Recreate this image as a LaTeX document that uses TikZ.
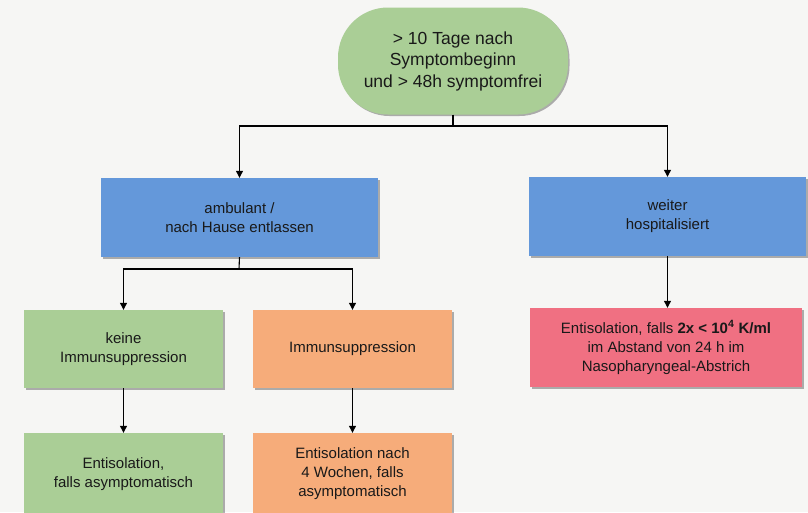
\documentclass[tikz,border=0pt]{standalone}
\usepackage{fontspec}
\setmainfont{Liberation Sans}
\usetikzlibrary{shadows,arrows.meta}
\definecolor{bgc}{RGB}{246,246,244}
\definecolor{greenc}{RGB}{170,206,150}
\definecolor{bluec}{RGB}{100,152,218}
\definecolor{orangec}{RGB}{246,172,122}
\definecolor{redc}{RGB}{240,112,130}
\definecolor{txt}{RGB}{25,25,25}
\tikzset{
  boxbase/.style={draw=none, align=center, text=txt, inner sep=0pt,
    font=\fontsize{15}{19}\selectfont,
    drop shadow={shadow xshift=1.5pt, shadow yshift=-1.5pt, fill=black, opacity=0.3}},
  bigbox/.style={boxbase, minimum width=277pt, minimum height=79pt},
  smallbox/.style={boxbase, minimum width=199pt, minimum height=78pt},
  pill/.style={boxbase, fill=greenc, rounded corners=50pt, minimum width=230pt, minimum height=107pt,
    font=\fontsize{17.5}{21.5}\selectfont},
  arr/.style={draw=black, line width=1.1pt, -{Triangle[length=7pt,width=7pt]}},
  ln/.style={draw=black, line width=1.1pt}
}
\begin{document}
\begin{tikzpicture}[x=1pt,y=-1pt]
\fill[bgc] (0,0) rectangle (808,512);
\useasboundingbox (0,0) rectangle (808,512);
\node[pill] (top) at (453,61) {> 10 Tage nach\\Symptombeginn\\und > 48h symptomfrei};
\node[bigbox, fill=bluec] (b1) at (239.5,217.5) {ambulant /\\nach Hause entlassen};
\node[bigbox, fill=bluec] (b2) at (667.5,216.5) {weiter\\hospitalisiert};
\node[smallbox, fill=greenc] (g1) at (123.5,349) {keine\\Immunsuppression};
\node[smallbox, fill=orangec] (o1) at (352.5,349) {Immunsuppression};
\node[boxbase, fill=redc, minimum width=272pt, minimum height=79pt] (r) at (666,347.5)
  {Entisolation, falls \textbf{2x < 10\textsuperscript{4} K/ml}\\im Abstand von 24 h im\\Nasopharyngeal-Abstrich};
\node[smallbox, fill=greenc, minimum height=82pt] (g2) at (123.5,474) {Entisolation,\\falls asymptomatisch};
\node[smallbox, fill=orangec, minimum height=82pt] (o2) at (352.5,474) {Entisolation nach\\4 Wochen, falls\\asymptomatisch};
\coordinate (j1) at (453,126);
\coordinate (j2) at (239,269);
\draw[ln] (top.south) -- (j1);
\draw[arr] (j1) -| (b1.north);
\draw[arr] (j1) -| (b2.north);
\draw[ln] (b1.south) -- (j2);
\draw[arr] (j2) -| (g1.north);
\draw[arr] (j2) -| (o1.north);
\draw[arr] (b2.south) -- (r.north -| b2.south);
\draw[arr] (g1.south) -- (g2.north);
\draw[arr] (o1.south) -- (o2.north);
\end{tikzpicture}
\end{document}
